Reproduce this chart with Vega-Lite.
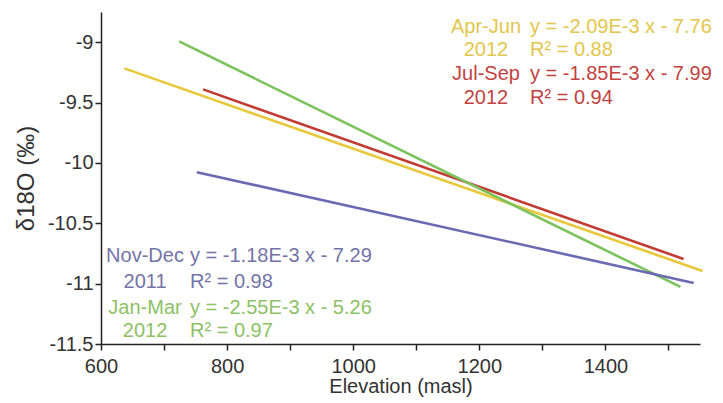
{
  "$schema": "https://vega.github.io/schema/vega-lite/v6.json",
  "width": 599,
  "height": 332,
  "autosize": "none",
  "padding": {"left": 101, "top": 12, "right": 23, "bottom": 59},
  "background": "white",
  "config": {
    "view": {"stroke": null},
    "font": "Liberation Sans",
    "axis": {"grid": false, "domainColor": "#222222", "domainWidth": 1.5, "tickColor": "#222222", "tickWidth": 1.5, "tickSize": 6, "labelColor": "#333333", "labelFontSize": 20, "titleFontSize": 20, "titleFontWeight": "normal", "titleColor": "#333333", "labelFont": "Liberation Sans", "titleFont": "Liberation Sans"}
  },
  "datasets": {
    "lines": [
      {"series": "Apr-Jun 2012", "elevation": 637, "d18O": -9.217},
      {"series": "Apr-Jun 2012", "elevation": 1554, "d18O": -10.895},
      {"series": "Jul-Sep 2012", "elevation": 762, "d18O": -9.391},
      {"series": "Jul-Sep 2012", "elevation": 1524, "d18O": -10.796},
      {"series": "Jan-Mar 2012", "elevation": 724, "d18O": -8.994},
      {"series": "Jan-Mar 2012", "elevation": 1519, "d18O": -11.027},
      {"series": "Nov-Dec 2011", "elevation": 752, "d18O": -10.077},
      {"series": "Nov-Dec 2011", "elevation": 1540, "d18O": -10.994}
    ],
    "labels": [
      {"series": "Apr-Jun 2012", "col": "name", "text": "Apr-Jun", "elevation": 1210.6, "d18O": -8.874},
      {"series": "Apr-Jun 2012", "col": "eq", "text": "y = -2.09E-3 x - 7.76", "elevation": 1280.4, "d18O": -8.874},
      {"series": "Apr-Jun 2012", "col": "name", "text": "2012", "elevation": 1210.6, "d18O": -9.065},
      {"series": "Apr-Jun 2012", "col": "eq", "text": "R² = 0.88", "elevation": 1280.4, "d18O": -9.065},
      {"series": "Jul-Sep 2012", "col": "name", "text": "Jul-Sep", "elevation": 1210.6, "d18O": -9.264},
      {"series": "Jul-Sep 2012", "col": "eq", "text": "y = -1.85E-3 x - 7.99", "elevation": 1280.4, "d18O": -9.264},
      {"series": "Jul-Sep 2012", "col": "name", "text": "2012", "elevation": 1210.6, "d18O": -9.462},
      {"series": "Jul-Sep 2012", "col": "eq", "text": "R² = 0.94", "elevation": 1280.4, "d18O": -9.462},
      {"series": "Nov-Dec 2011", "col": "name", "text": "Nov-Dec", "elevation": 669.8, "d18O": -10.771},
      {"series": "Nov-Dec 2011", "col": "eq", "text": "y = -1.18E-3 x - 7.29", "elevation": 741.2, "d18O": -10.771},
      {"series": "Nov-Dec 2011", "col": "name", "text": "2011", "elevation": 669.8, "d18O": -10.986},
      {"series": "Nov-Dec 2011", "col": "eq", "text": "R² = 0.98", "elevation": 741.2, "d18O": -10.986},
      {"series": "Jan-Mar 2012", "col": "name", "text": "Jan-Mar", "elevation": 669.8, "d18O": -11.202},
      {"series": "Jan-Mar 2012", "col": "eq", "text": "y = -2.55E-3 x - 5.26", "elevation": 741.2, "d18O": -11.202},
      {"series": "Jan-Mar 2012", "col": "name", "text": "2012", "elevation": 669.8, "d18O": -11.392},
      {"series": "Jan-Mar 2012", "col": "eq", "text": "R² = 0.97", "elevation": 741.2, "d18O": -11.392}
    ]
  },
  "layer": [
    {
      "data": {"name": "lines"},
      "mark": {"type": "line", "strokeWidth": 2.6, "clip": false},
      "encoding": {
        "x": {"field": "elevation", "type": "quantitative",
              "scale": {"domain": [600, 1550], "nice": false, "zero": false},
              "axis": {"values": [600, 700, 800, 900, 1000, 1100, 1200, 1300, 1400, 1500], "labelExpr": "datum.value % 200 == 0 ? toString(datum.value) : ''", "labelPadding": 6, "title": "Elevation (masl)", "titlePadding": 0, "labelFlush": false, "labelOverlap": false}},
        "y": {"field": "d18O", "type": "quantitative",
              "scale": {"domain": [-11.5, -8.75], "nice": false, "zero": false},
              "axis": {"values": [-11.5, -11, -10.5, -10, -9.5, -9], "labelExpr": "toString(datum.value)", "labelPadding": 2, "title": "δ18O (‰)", "titleFontSize": 24, "titlePadding": 9, "labelFlush": false, "labelOverlap": false}},
        "color": {"field": "series", "type": "nominal", "legend": null,
                  "scale": {"domain": ["Apr-Jun 2012", "Jul-Sep 2012", "Jan-Mar 2012", "Nov-Dec 2011"], "range": ["#E8C83A", "#C23B33", "#7DC35D", "#6A6AB2"]}},
        "detail": {"field": "series"}
      }
    },
    {
      "data": {"name": "labels"},
      "transform": [{"filter": "datum.col == 'name'"}],
      "mark": {"type": "text", "align": "center", "baseline": "middle", "fontSize": 20, "font": "Liberation Sans"},
      "encoding": {
        "x": {"field": "elevation", "type": "quantitative"},
        "y": {"field": "d18O", "type": "quantitative"},
        "text": {"field": "text"},
        "color": {"field": "series", "type": "nominal", "legend": null,
                  "scale": {"domain": ["Apr-Jun 2012", "Jul-Sep 2012", "Jan-Mar 2012", "Nov-Dec 2011"], "range": ["#E3C64C", "#C3423F", "#8DC165", "#7474A8"]}}
      }
    },
    {
      "data": {"name": "labels"},
      "transform": [{"filter": "datum.col == 'eq'"}],
      "mark": {"type": "text", "align": "left", "baseline": "middle", "fontSize": 20, "font": "Liberation Sans"},
      "encoding": {
        "x": {"field": "elevation", "type": "quantitative"},
        "y": {"field": "d18O", "type": "quantitative"},
        "text": {"field": "text"},
        "color": {"field": "series", "type": "nominal", "legend": null,
                  "scale": {"domain": ["Apr-Jun 2012", "Jul-Sep 2012", "Jan-Mar 2012", "Nov-Dec 2011"], "range": ["#E3C64C", "#C3423F", "#8DC165", "#7474A8"]}}
      }
    }
  ],
  "resolve": {"scale": {"color": "independent"}}
}
